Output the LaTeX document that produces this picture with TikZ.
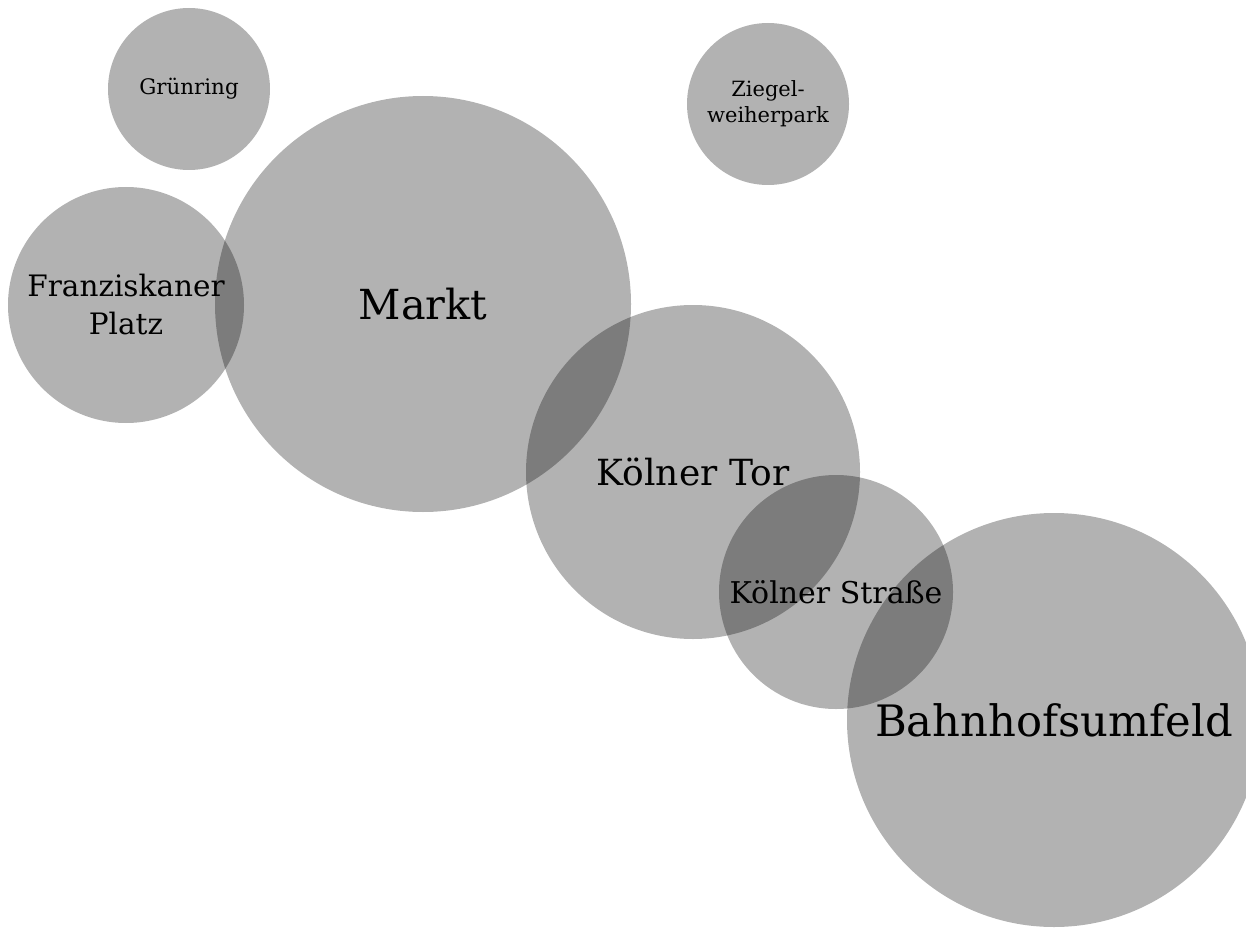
\documentclass[tikz,border=0pt]{standalone}
\usepackage{fontspec}
\setmainfont{DejaVu Serif}
\usepackage{tikz}

\begin{document}
\begin{tikzpicture}[x=1pt,y=-1pt]
            \useasboundingbox (0,0) rectangle (1246,933);
            \begin{scope}[every node/.style={circle,fill=black,fill opacity=0.3,text opacity=1,inner sep=0pt,align=center}]
                \node[minimum size=162pt,font=\fontsize{21.4}{24}\selectfont] (gruen) at (189,89) {Grünring};
                \node[minimum size=162pt,font=\fontsize{21}{26}\selectfont] (ziegel) at (768,104) {Ziegel-\\weiherpark};

                \node[minimum size=236pt,font=\fontsize{29.5}{38}\selectfont] (franz) at (126,305) {Franziskaner\\Platz};
                \node[minimum size=416pt,font=\fontsize{41.4}{41}\selectfont] (markt) at (423,304) {Markt};

                \node[minimum size=334pt,font=\fontsize{36}{36}\selectfont] (tor) at (693,472) {Kölner Tor};
                \node[minimum size=234pt,font=\fontsize{30}{30}\selectfont] (strasse) at (836,592) {Kölner Straße};

                \node[minimum size=414pt,font=\fontsize{43.3}{45}\selectfont] (bahnhof) at (1054,720) {Bahnhofsumfeld};
            \end{scope}
        \end{tikzpicture}
\end{document}
